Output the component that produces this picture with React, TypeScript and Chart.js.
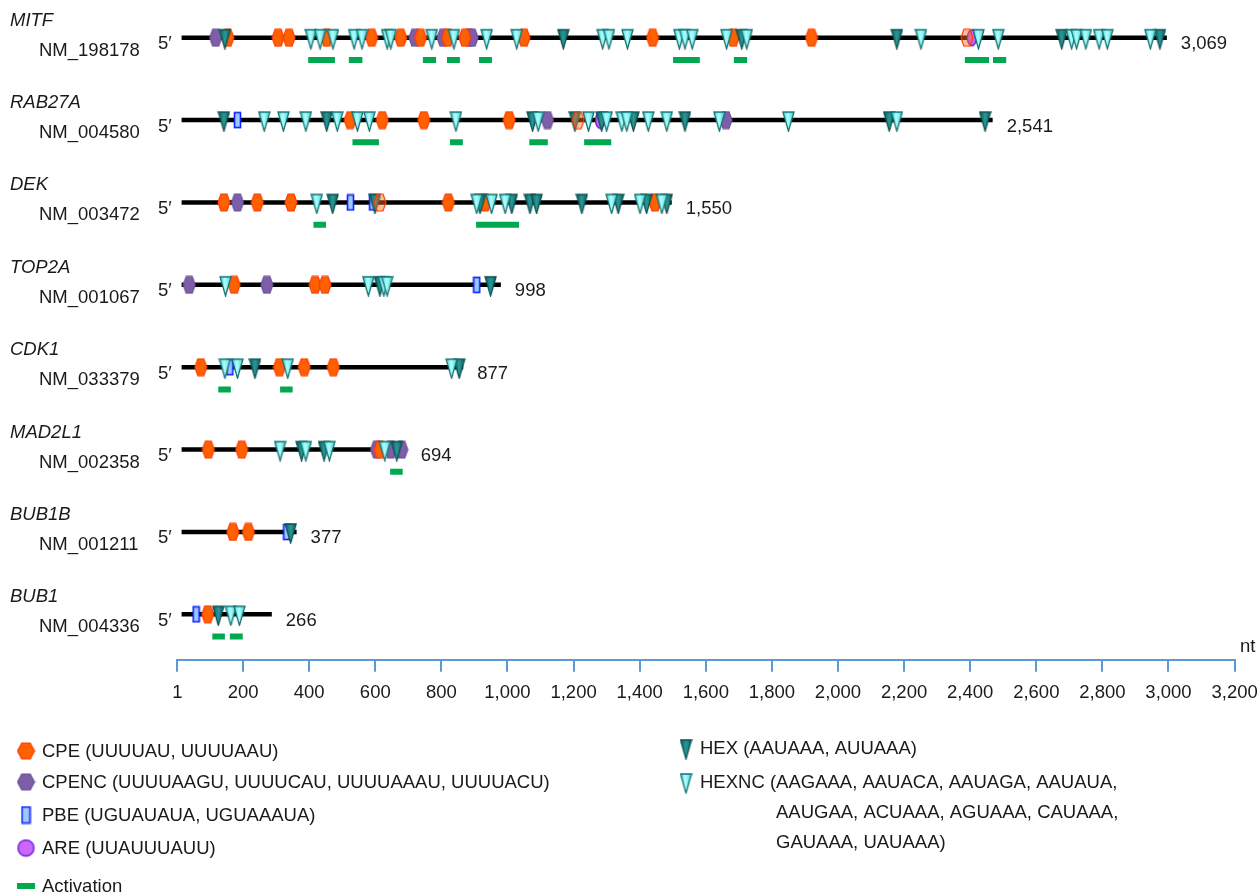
import React, { useEffect, useRef } from 'react';
import { Chart, registerables } from 'chart.js';

Chart.register(...registerables);

const GENES = ['MITF', 'RAB27A', 'DEK', 'TOP2A', 'CDK1', 'MAD2L1', 'BUB1B', 'BUB1'];
const ACCESSIONS = ['NM_198178', 'NM_004580', 'NM_003472', 'NM_001067', 'NM_033379', 'NM_002358', 'NM_001211', 'NM_004336'];
const LENGTH_LABELS = ['3,069', '2,541', '1,550', '998', '877', '694', '377', '266'];
const LINE_START = [14, 14, 14, 14, 14, 14, 14, 14];
const LINE_END = [2995, 2468, 1497, 980, 866, 695, 362, 287];

const CPE: number[][] = [
  [154, 306, 339, 453, 589, 677, 737, 819, 871, 1050, 1439, 1683, 1920],
  [524, 621, 747, 1005],
  [142, 243, 345, 821, 932, 1446],
  [173, 418, 448],
  [72, 310, 385, 473],
  [95, 196, 614],
  [169, 216],
  [93],
];
const CPE_OVERLAP: number[][] = [[2390], [1214], [614], [], [], [], [], []];
const CPENC: number[][] = [
  [117, 720, 805, 884, 893],
  [1121, 1661],
  [183],
  [37, 272],
  [],
  [604, 647, 680],
  [],
  [],
];
const PBE: number[][] = [[], [183], [525, 592], [907], [160], [], [332], [58]];
const ARE: number[][] = [[2405], [1280], [], [], [], [], [], []];
const HEX: number[][] = [
  [145, 1169, 1709, 2178, 2677, 2974],
  [142, 453, 1076, 1204, 1285, 1381, 1537, 2155, 2445],
  [471, 599, 917, 1013, 1068, 1088, 1225, 1335, 1421, 1482],
  [614, 949],
  [236, 854],
  [377, 445, 665],
  [344],
  [125],
];
const HEXNC: number[][] = [
  [405, 433, 472, 536, 560, 636, 647, 771, 838, 937, 1028, 1288, 1307, 1363, 1520, 1537, 1559, 1663, 1724, 2251, 2425, 2485, 2707, 2722, 2750, 2790, 2815, 2945],
  [264, 322, 390, 485, 546, 582, 844, 1093, 1245, 1300, 1346, 1361, 1426, 1482, 1641, 1850, 2178],
  [423, 907, 952, 993, 1315, 1401, 1467],
  [147, 579, 626, 636],
  [145, 183, 335, 831],
  [312, 390, 461, 629],
  [],
  [163, 189],
];
const ACTIVATION: number[][][] = [
  [[397, 478], [520, 561], [744, 784], [817, 856], [914, 953], [1501, 1582], [1685, 1725], [2384, 2457], [2469, 2509]],
  [[531, 611], [826, 865], [1066, 1122], [1232, 1314]],
  [[413, 451], [905, 1035]],
  [],
  [[125, 163], [312, 350]],
  [[645, 683]],
  [],
  [[107, 145], [160, 199]],
];
const X_TICKS = [1, 200, 400, 600, 800, 1000, 1200, 1400, 1600, 1800, 2000, 2200, 2400, 2600, 2800, 3000, 3200];

const LEGEND_LEFT = [
  'CPE (UUUUAU, UUUUAAU)',
  'CPENC (UUUUAAGU, UUUUCAU, UUUUAAAU, UUUUACU)',
  'PBE (UGUAUAUA, UGUAAAUA)',
  'ARE (UUAUUUAUU)',
  'Activation',
];
const LEGEND_HEX = 'HEX (AAUAAA, AUUAAA)';
const LEGEND_HEXNC = [
  'HEXNC (AAGAAA, AAUACA, AAUAGA, AAUAUA,',
  'AAUGAA, ACUAAA, AGUAAA, CAUAAA,',
  'GAUAAA, UAUAAA)',
];

const FONT = "'Liberation Sans', Arial, Helvetica, sans-serif";
const FS = 18.5;
const ACT_OFFSET = 0.27;

function makeCanvas(w: number, h: number, draw: (ctx: CanvasRenderingContext2D) => void) {
  const c = document.createElement('canvas');
  c.width = w;
  c.height = h;
  const ctx = c.getContext('2d')!;
  draw(ctx);
  return c;
}

function hexagon(w: number, h: number, fill: string, stroke: string) {
  return makeCanvas(w + 2, h + 2, (ctx) => {
    ctx.beginPath();
    ctx.moveTo(1, h / 2 + 1);
    ctx.lineTo(1 + w / 4, 1);
    ctx.lineTo(1 + (3 * w) / 4, 1);
    ctx.lineTo(1 + w, h / 2 + 1);
    ctx.lineTo(1 + (3 * w) / 4, h + 1);
    ctx.lineTo(1 + w / 4, h + 1);
    ctx.closePath();
    ctx.fillStyle = fill;
    ctx.fill();
    ctx.strokeStyle = stroke;
    ctx.lineWidth = 1.2;
    ctx.stroke();
  });
}

function rect(w: number, h: number) {
  return makeCanvas(w + 2, h + 2, (ctx) => {
    ctx.fillStyle = '#9cc9ff';
    ctx.fillRect(1, 1, w, h);
    ctx.strokeStyle = '#1020ff';
    ctx.lineWidth = 1.6;
    ctx.strokeRect(1.5, 1.5, w - 1, h - 1);
  });
}

function ellipse(w: number, h: number) {
  return makeCanvas(w + 2, h + 2, (ctx) => {
    ctx.beginPath();
    ctx.ellipse(w / 2 + 1, h / 2 + 1, w / 2 - 0.5, h / 2 - 0.5, 0, 0, Math.PI * 2);
    ctx.fillStyle = '#cc66ff';
    ctx.fill();
    ctx.strokeStyle = '#6a1fd0';
    ctx.lineWidth = 1.4;
    ctx.stroke();
  });
}

function triangle(w: number, h: number, dark: boolean) {
  const H = 2 * (h - 8) + 2;
  return makeCanvas(w + 2, H, (ctx) => {
    const top = H / 2 - 8;
    const g = ctx.createLinearGradient(1, 0, w + 1, 0);
    if (dark) {
      g.addColorStop(0, '#0c6262');
      g.addColorStop(0.5, '#2a9896');
      g.addColorStop(1, '#0c6262');
    } else {
      g.addColorStop(0, '#3fd6d6');
      g.addColorStop(0.45, '#b4ffff');
      g.addColorStop(1, '#3fd6d6');
    }
    ctx.beginPath();
    ctx.moveTo(1, top);
    ctx.lineTo(w + 1, top);
    ctx.lineTo(w / 2 + 1, top + h);
    ctx.closePath();
    ctx.fillStyle = g;
    ctx.fill();
    ctx.strokeStyle = dark ? '#0a5050' : '#137070';
    ctx.lineWidth = 1.3;
    ctx.stroke();
  });
}

export default function App() {
  const ref = useRef<HTMLCanvasElement | null>(null);

  useEffect(() => {
    if (!ref.current) return;
    const icons = {
      cpe: hexagon(12, 17, '#ff6000', '#ff3a00'),
      cpeOver: hexagon(12, 17, 'rgba(255,110,30,0.45)', '#ff3a00'),
      cpenc: hexagon(12, 17, '#7e5ea8', '#6c4f98'),
      pbe: rect(7, 16),
      are: ellipse(10, 17),
      hex: triangle(11, 19, true),
      hexnc: triangle(11, 19, false),
    };
    const legendIcons = {
      cpe: hexagon(17, 16, '#ff6000', '#ff3a00'),
      cpenc: hexagon(17, 16, '#7e5ea8', '#6c4f98'),
      pbe: rect(9, 17),
      are: ellipse(17, 17),
      hex: triangle(11, 19, true),
      hexnc: triangle(11, 19, false),
    };

    const pts = (arr: number[][]) =>
      arr.flatMap((list, row) => list.map((x) => ({ x, y: row })));

    const markerSet = (label: string, arr: number[][], style: HTMLCanvasElement, order: number) => ({
      label,
      data: pts(arr),
      pointStyle: style,
      pointRadius: 8,
      showLine: false,
      order,
      clip: false as const,
    });

    const lineSets = GENES.map((g, i) => ({
      label: g,
      data: [
        { x: LINE_START[i], y: i },
        { x: LINE_END[i], y: i },
      ],
      showLine: true,
      borderColor: '#000',
      borderWidth: 4.5,
      borderCapStyle: 'butt' as const,
      pointRadius: 0,
      order: 40,
      clip: false as const,
    }));

    const actData: any[] = [];
    ACTIVATION.forEach((segs, row) => {
      segs.forEach(([a, b]) => {
        actData.push({ x: a, y: row + ACT_OFFSET });
        actData.push({ x: b, y: row + ACT_OFFSET });
        actData.push({ x: b, y: null });
      });
    });

    const activationSet = {
      label: 'Activation',
      data: actData,
      showLine: true,
      spanGaps: false,
      borderColor: '#00a850',
      borderWidth: 6,
      borderCapStyle: 'butt' as const,
      pointRadius: 0,
      order: 39,
      clip: false as const,
    };

    const labelPlugin = {
      id: 'labels',
      afterDraw(chart: any) {
        const ctx: CanvasRenderingContext2D = chart.ctx;
        const xs = chart.scales.x;
        const ys = chart.scales.y;
        ctx.save();
        ctx.fillStyle = '#1a1a1a';
        ctx.textBaseline = 'alphabetic';
        ctx.textAlign = 'left';
        GENES.forEach((g, i) => {
          const yp = ys.getPixelForValue(i);
          ctx.font = `italic ${FS}px ${FONT}`;
          ctx.fillText(g, 10, yp - 12);
          ctx.font = `${FS}px ${FONT}`;
          ctx.fillText(ACCESSIONS[i], 39, yp + 18);
          ctx.fillText('5\u2032', 158, yp + 11.5);
          ctx.fillText(LENGTH_LABELS[i], xs.getPixelForValue(LINE_END[i]) + 14, yp + 11.5);
        });
        ctx.textBaseline = 'middle';
        ctx.font = `${FS}px ${FONT}`;
        ctx.fillText('nt', 1240, 647);

        const leftY = [751, 782, 815, 848, 886];
        const drawIcon = (c: HTMLCanvasElement, cx: number, cy: number) =>
          ctx.drawImage(c, cx - c.width / 2, cy - c.height / 2);
        drawIcon(legendIcons.cpe, 26, leftY[0]);
        drawIcon(legendIcons.cpenc, 26, leftY[1]);
        drawIcon(legendIcons.pbe, 26, leftY[2]);
        drawIcon(legendIcons.are, 26, leftY[3]);
        ctx.fillStyle = '#00a850';
        ctx.fillRect(17, leftY[4] - 3, 18, 6);
        ctx.fillStyle = '#1a1a1a';
        LEGEND_LEFT.forEach((t, i) => ctx.fillText(t, 42, leftY[i] + 1));

        drawIcon(legendIcons.hex, 686, 748);
        ctx.fillText(LEGEND_HEX, 700, 749);
        drawIcon(legendIcons.hexnc, 686, 782);
        ctx.fillText(LEGEND_HEXNC[0], 700, 783);
        ctx.fillText(LEGEND_HEXNC[1], 776, 813);
        ctx.fillText(LEGEND_HEXNC[2], 776, 843);
        ctx.restore();
      },
    };

    const chart = new Chart(ref.current, {
      type: 'scatter',
      data: {
        datasets: [
          ...lineSets,
          activationSet,
          markerSet('CPENC', CPENC, icons.cpenc, 30),
          markerSet('CPE', CPE, icons.cpe, 29),
          markerSet('PBE', PBE, icons.pbe, 25),
          markerSet('ARE', ARE, icons.are, 24),
          markerSet('HEX', HEX, icons.hex, 20),
          markerSet('HEXNC', HEXNC, icons.hexnc, 19),
          markerSet('CPE overlap', CPE_OVERLAP, icons.cpeOver, 5),
        ] as any,
      },
      options: {
        animation: false,
        responsive: true,
        maintainAspectRatio: false,
        events: [],
        layout: { autoPadding: false, padding: { left: 177.3, right: 24.4, top: 0, bottom: 179 } },
        plugins: { legend: { display: false }, tooltip: { enabled: false } },
        scales: {
          x: {
            type: 'linear',
            position: 'bottom',
            min: 1,
            max: 3200,
            afterBuildTicks: (s: any) => {
              s.ticks = X_TICKS.map((v) => ({ value: v }));
            },
            afterFit: (s: any) => {
              s.paddingLeft = 0;
              s.paddingRight = 0;
            },
            ticks: {
              callback: (v: any) => Number(v).toLocaleString('en-US'),
              font: { family: FONT, size: FS },
              color: '#1a1a1a',
              padding: 10,
              maxRotation: 0,
              autoSkip: false,
            },
            grid: {
              drawOnChartArea: false,
              drawTicks: true,
              tickLength: 12,
              color: '#5b9bd5',
              lineWidth: 2,
            },
            border: { color: '#5b9bd5', width: 2 },
          },
          y: {
            type: 'linear',
            display: false,
            min: -0.4575,
            max: 7.552,
            reverse: true,
          },
        },
      } as any,
      plugins: [labelPlugin],
    });
    return () => chart.destroy();
  }, []);

  return (
    <div style={{ position: 'absolute', left: 0, top: 0, width: 1259, height: 893, background: '#fff' }}>
      <canvas ref={ref} />
    </div>
  );
}
